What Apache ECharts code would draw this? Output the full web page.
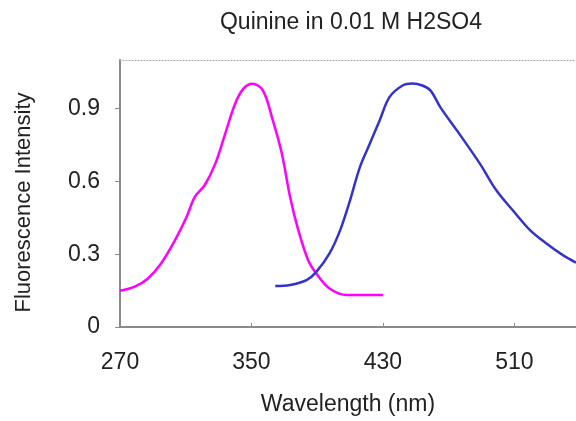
<!DOCTYPE html>
<html>
<head>
<meta charset="utf-8">
<script src="https://cdn.jsdelivr.net/npm/echarts@6/dist/echarts.min.js"></script>
<style>
  html, body { margin: 0; padding: 0; background: #ffffff; }
  #chart { width: 576px; height: 421px; }
</style>
</head>
<body>
<div id="chart"></div>
<script>
// ---- data ----
const titleText = "Quinine in 0.01 M H2SO4";
const xAxisName = "Wavelength (nm)";
const yAxisName = "Fluorescence Intensity";
const xTickValues = [270, 350, 430, 510];
const yTickValues = [0, 0.3, 0.6, 0.9];

// Excitation spectrum (magenta)
const excitationWavelength = [270, 279, 287, 295, 303.5, 310.5, 315.5, 321.5, 328, 334, 340, 345, 350.5, 357, 363, 368.5, 373.5, 378.5, 384.5, 389.5, 397.5, 408, 430];
const excitationIntensity  = [0.149, 0.166, 0.200, 0.262, 0.358, 0.453, 0.536, 0.584, 0.673, 0.796, 0.919, 0.981, 1.002, 0.974, 0.851, 0.714, 0.536, 0.399, 0.275, 0.220, 0.159, 0.132, 0.132];

// Emission spectrum (blue)
const emissionWavelength = [364.5, 373.5, 383.5, 389.5, 397.5, 404, 410, 416, 422, 428, 434, 442, 448, 454, 459, 465, 475, 489, 499, 509, 519.5, 529.5, 539.5, 547.5];
const emissionIntensity  = [0.169, 0.173, 0.193, 0.227, 0.303, 0.399, 0.522, 0.659, 0.755, 0.851, 0.947, 0.995, 1.003, 0.995, 0.974, 0.905, 0.810, 0.673, 0.563, 0.481, 0.399, 0.344, 0.296, 0.265];

const xMin = 270, xMax = 547.5;
const yMin = 0, yMax = 1.1;

function pairs(xs, ys) { return xs.map((x, i) => [x, ys[i]]); }

const font = "'Liberation Sans', Arial, Helvetica, sans-serif";
const chart = echarts.init(document.getElementById('chart'), null, { renderer: 'canvas' });

chart.setOption({
  animation: false,
  backgroundColor: '#ffffff',
  title: {
    text: titleText,
    left: 346, top: 6,
    textAlign: 'center',
    textStyle: { fontFamily: font, fontSize: 23, fontWeight: 'normal', color: '#222' }
  },
  grid: { left: 120, right: 0, top: 60, bottom: 94, containLabel: false },
  xAxis: [{
    type: 'value', min: xMin, max: xMax, interval: 80,
    name: xAxisName, nameLocation: 'middle', nameGap: 66,
    nameTextStyle: { fontFamily: font, fontSize: 23, color: '#222' },
    axisLine: { show: true, onZero: false, lineStyle: { color: '#8a8a8a', width: 2 } },
    axisTick: { show: true, inside: true, length: 4, customValues: xTickValues, lineStyle: { color: '#8a8a8a', width: 1 } },
    axisLabel: { customValues: xTickValues, margin: 24, fontFamily: font, fontSize: 23, color: '#222',
                 formatter: v => String(v) },
    splitLine: { show: false }
  }, {
    type: 'value', min: xMin, max: xMax, position: 'top',
    axisLine: { show: true, onZero: false, lineStyle: { color: '#a0a0a0', width: 1, type: [1, 2] } },
    axisTick: { show: false }, axisLabel: { show: false }, splitLine: { show: false }
  }],
  yAxis: {
    type: 'value', min: yMin, max: yMax, interval: 0.3,
    name: yAxisName, nameLocation: 'middle', nameGap: 85, nameRotate: 90,
    nameTextStyle: { fontFamily: font, fontSize: 22, color: '#222', padding: [0, 18, 0, 0] },
    axisLine: { show: true, onZero: false, lineStyle: { color: '#8a8a8a', width: 2 } },
    axisTick: { show: true, inside: false, length: 5, customValues: yTickValues, lineStyle: { color: '#8a8a8a', width: 1 } },
    axisLabel: { customValues: yTickValues, margin: 20, fontFamily: font, fontSize: 23, color: '#222',
                 formatter: v => (v === 0 ? '0' : String(v)) },
    splitLine: { show: false }
  },
  series: [{
    name: 'Excitation', type: 'line', xAxisIndex: 0,
    data: pairs(excitationWavelength, excitationIntensity),
    smooth: 0.35, showSymbol: false, clip: true,
    lineStyle: { color: '#ff00ff', width: 2.5 }
  }, {
    name: 'Emission', type: 'line', xAxisIndex: 0,
    data: pairs(emissionWavelength, emissionIntensity),
    smooth: 0.35, showSymbol: false, clip: true,
    lineStyle: { color: '#3333cc', width: 2.5 }
  }]
});
</script>
</body>
</html>
